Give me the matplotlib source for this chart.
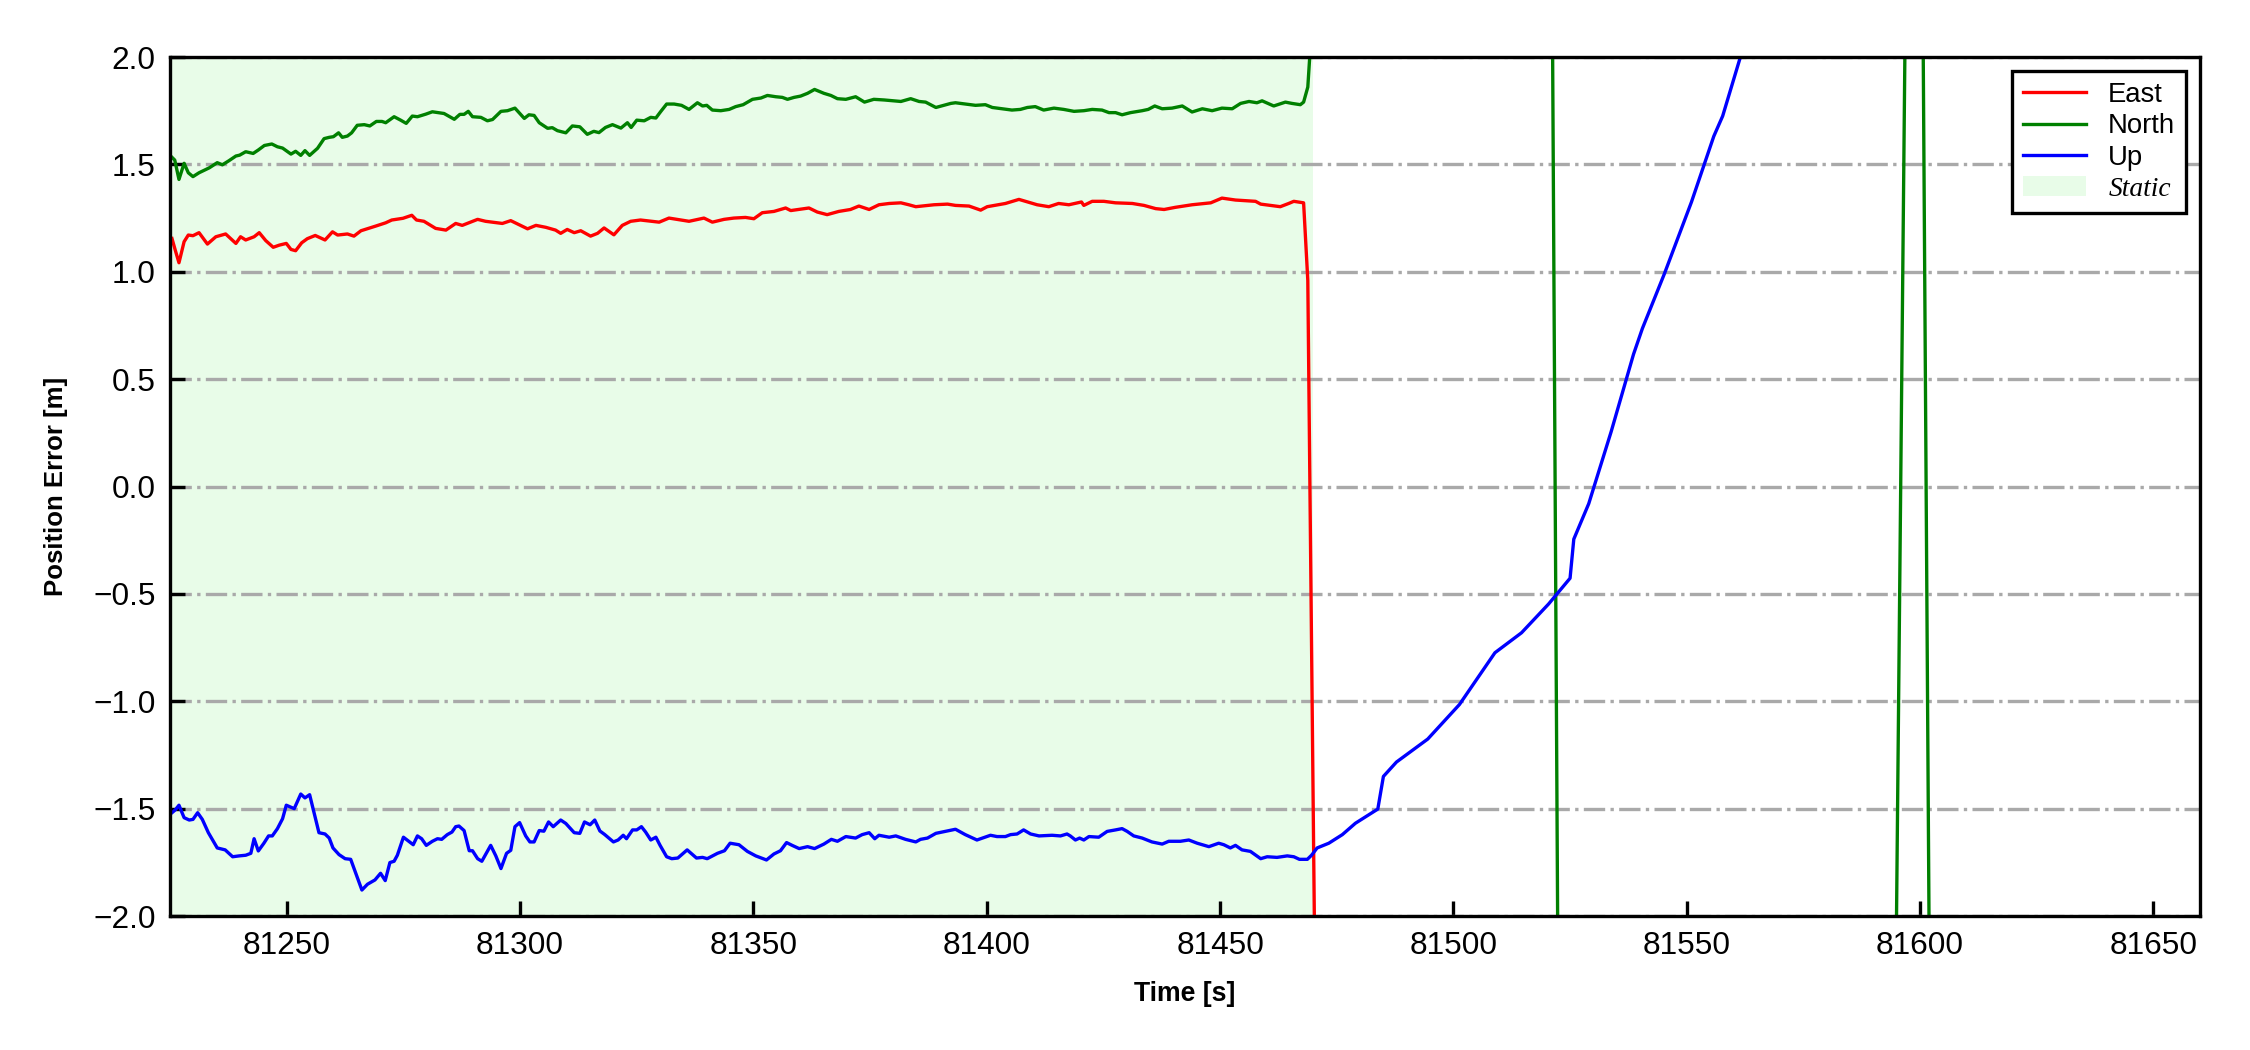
import numpy as np
import matplotlib
matplotlib.use("Agg")
import matplotlib.pyplot as plt

# East error (red)
east_t = [81225.4, 81226.1, 81226.9, 81228.0, 81228.9, 81229.9, 81231.2, 81233.0, 81234.8, 81236.9,
          81239.1, 81240.1, 81241.2, 81243.0, 81244.1, 81245.5, 81247.1, 81248.4, 81249.9, 81250.9,
          81251.9, 81253.2, 81254.4, 81256.1, 81258.2, 81259.8, 81260.9, 81263.0, 81264.4, 81265.9,
          81269.1, 81271.2, 81272.5, 81274.9, 81276.8, 81277.8, 81279.4, 81281.9, 81284.1, 81286.2,
          81287.6, 81290.9, 81292.6, 81296.2, 81298.0, 81299.8, 81301.6, 81303.4, 81305.5, 81307.6,
          81308.7, 81310.1, 81311.6, 81313.0, 81315.1, 81316.6, 81318.0, 81320.1, 81321.9, 81323.7,
          81325.8, 81329.8, 81331.9, 81336.2, 81339.4, 81341.2, 81343.7, 81345.8, 81348.3, 81350.1,
          81351.9, 81354.4, 81356.9, 81358.0, 81361.9, 81363.7, 81365.8, 81368.3, 81370.8, 81372.6,
          81374.8, 81376.9, 81379.1, 81381.6, 81383.3, 81384.8, 81388.7, 81391.6, 81393.3, 81396.2,
          81398.7, 81400.1, 81404.0, 81406.9, 81410.8, 81413.3, 81415.4, 81417.6, 81420.3, 81420.8,
          81422.6, 81425.1, 81427.6, 81431.2, 81433.7, 81436.2, 81438.0, 81440.4, 81444.0, 81448.0,
          81450.4, 81453.3, 81457.6, 81458.7, 81462.9, 81464.7, 81465.8, 81467.9, 81468.8, 81471.0,
          81560.0, 81660.0]
east_v = [1.155, 1.101, 1.042, 1.140, 1.171, 1.168, 1.182, 1.129, 1.163, 1.176,
          1.132, 1.163, 1.148, 1.163, 1.182, 1.145, 1.114, 1.124, 1.132, 1.104,
          1.098, 1.135, 1.154, 1.169, 1.148, 1.186, 1.171, 1.176, 1.166, 1.191,
          1.213, 1.228, 1.241, 1.249, 1.263, 1.241, 1.235, 1.202, 1.194, 1.225,
          1.216, 1.244, 1.235, 1.225, 1.238, 1.219, 1.200, 1.216, 1.207, 1.194,
          1.179, 1.197, 1.182, 1.191, 1.166, 1.179, 1.204, 1.172, 1.216, 1.235,
          1.241, 1.231, 1.250, 1.235, 1.250, 1.231, 1.244, 1.250, 1.253, 1.247,
          1.275, 1.281, 1.297, 1.285, 1.297, 1.278, 1.266, 1.281, 1.290, 1.306,
          1.290, 1.312, 1.318, 1.321, 1.312, 1.303, 1.312, 1.315, 1.309, 1.306,
          1.287, 1.303, 1.318, 1.337, 1.312, 1.303, 1.318, 1.312, 1.325, 1.309,
          1.328, 1.328, 1.321, 1.318, 1.309, 1.294, 1.290, 1.300, 1.312, 1.321,
          1.343, 1.334, 1.328, 1.315, 1.303, 1.318, 1.328, 1.321, 0.96, -3.7,
          -6.0, -8.5]

# North error (green)
north_t = [81225.4, 81226.0, 81226.9, 81228.0, 81228.9, 81229.9, 81231.2, 81233.4, 81235.1, 81236.2,
           81237.6, 81239.1, 81239.9, 81241.2, 81242.8, 81243.9, 81245.2, 81246.8, 81248.0, 81249.1,
           81250.9, 81251.9, 81253.0, 81253.9, 81254.9, 81256.6, 81258.0, 81259.1, 81260.0, 81261.1,
           81261.9, 81263.0, 81263.9, 81265.1, 81266.6, 81267.8, 81269.2, 81270.4, 81271.2, 81273.0,
           81274.4, 81275.6, 81276.9, 81278.0, 81279.8, 81281.2, 81283.7, 81285.9, 81287.1, 81288.0,
           81288.9, 81289.8, 81291.6, 81293.0, 81294.1, 81295.9, 81297.3, 81298.9, 81300.9, 81301.9,
           81303.0, 81304.1, 81305.9, 81306.9, 81308.0, 81309.8, 81311.2, 81312.8, 81314.4, 81315.8,
           81316.9, 81318.3, 81319.8, 81321.6, 81323.0, 81323.8, 81325.0, 81326.6, 81328.0, 81329.1,
           81330.1, 81331.4, 81333.0, 81334.6, 81336.2, 81338.0, 81339.1, 81340.0, 81341.2, 81343.0,
           81344.8, 81346.2, 81347.8, 81349.8, 81351.6, 81353.0, 81354.8, 81356.2, 81357.3, 81358.7,
           81360.1, 81361.6, 81363.1, 81365.1, 81366.6, 81368.0, 81369.8, 81371.9, 81373.8, 81375.8,
           81378.0, 81380.1, 81381.6, 81383.7, 81385.5, 81386.9, 81389.1, 81390.8, 81392.3, 81393.3,
           81395.4, 81397.6, 81399.7, 81401.2, 81403.3, 81405.4, 81407.2, 81408.7, 81410.4, 81412.2,
           81414.4, 81416.5, 81418.7, 81420.8, 81422.6, 81424.7, 81426.2, 81427.6, 81429.0, 81430.8,
           81433.3, 81434.6, 81436.0, 81437.6, 81439.7, 81441.9, 81444.0, 81446.2, 81448.3, 81450.4,
           81452.6, 81454.4, 81456.2, 81457.9, 81459.0, 81461.5, 81464.0, 81465.4, 81467.2, 81467.9,
           81468.8, 81469.8, 81495.0, 81521.0, 81522.6, 81560.0, 81594.6, 81597.1, 81600.5, 81602.1,
           81660.0]
north_v = [1.533, 1.520, 1.430, 1.505, 1.461, 1.443, 1.461, 1.484, 1.508, 1.498,
           1.517, 1.539, 1.543, 1.559, 1.551, 1.567, 1.588, 1.595, 1.582, 1.576,
           1.548, 1.561, 1.542, 1.564, 1.542, 1.575, 1.620, 1.626, 1.629, 1.647,
           1.626, 1.632, 1.647, 1.682, 1.685, 1.679, 1.700, 1.700, 1.694, 1.722,
           1.706, 1.691, 1.725, 1.722, 1.734, 1.745, 1.737, 1.710, 1.733, 1.733,
           1.747, 1.722, 1.719, 1.703, 1.709, 1.747, 1.750, 1.762, 1.714, 1.731,
           1.728, 1.694, 1.668, 1.671, 1.657, 1.647, 1.679, 1.675, 1.640, 1.654,
           1.648, 1.672, 1.685, 1.669, 1.694, 1.672, 1.706, 1.703, 1.719, 1.716,
           1.745, 1.781, 1.781, 1.775, 1.756, 1.787, 1.772, 1.775, 1.753, 1.750,
           1.756, 1.769, 1.778, 1.803, 1.809, 1.821, 1.815, 1.812, 1.803, 1.812,
           1.818, 1.831, 1.849, 1.831, 1.821, 1.806, 1.803, 1.815, 1.790, 1.803,
           1.800, 1.796, 1.793, 1.806, 1.793, 1.790, 1.765, 1.775, 1.784, 1.787,
           1.781, 1.775, 1.778, 1.765, 1.759, 1.753, 1.756, 1.765, 1.769, 1.753,
           1.762, 1.756, 1.747, 1.750, 1.756, 1.753, 1.741, 1.741, 1.731, 1.741,
           1.750, 1.756, 1.772, 1.759, 1.762, 1.772, 1.744, 1.759, 1.750, 1.762,
           1.759, 1.784, 1.793, 1.787, 1.796, 1.772, 1.790, 1.784, 1.778, 1.790,
           1.86, 2.2, 5.5, 3.0, -3.0, -5.0, -2.8, 2.8, 2.6, -2.6,
           -4.0]

# Up error (blue)
up_t = [81225.4, 81226.1, 81226.9, 81228.0, 81229.1, 81229.9, 81230.9, 81231.9, 81233.2, 81235.1,
        81236.8, 81238.4, 81239.8, 81241.2, 81242.3, 81243.0, 81243.9, 81245.1, 81246.1, 81246.9,
        81248.0, 81249.1, 81249.9, 81251.6, 81253.0, 81253.9, 81254.9, 81256.9, 81258.2, 81259.1,
        81259.9, 81261.2, 81262.5, 81263.7, 81266.1, 81267.3, 81268.9, 81270.1, 81271.1, 81272.1,
        81273.0, 81273.7, 81275.0, 81277.1, 81278.0, 81278.9, 81279.9, 81281.2, 81282.3, 81283.2,
        81284.4, 81285.4, 81286.2, 81286.9, 81288.0, 81289.1, 81289.8, 81290.9, 81291.8, 81293.7,
        81294.8, 81295.9, 81297.1, 81298.0, 81298.9, 81299.9, 81301.2, 81302.1, 81303.0, 81304.1,
        81305.1, 81306.1, 81307.1, 81308.7, 81309.8, 81311.6, 81312.8, 81313.8, 81315.0, 81316.0,
        81317.1, 81318.1, 81320.0, 81321.0, 81322.1, 81322.8, 81324.1, 81325.0, 81326.0, 81326.9,
        81328.0, 81329.1, 81330.0, 81331.4, 81332.5, 81333.8, 81335.8, 81337.8, 81339.1, 81340.1,
        81342.3, 81343.8, 81345.0, 81346.9, 81348.7, 81350.5, 81352.8, 81354.4, 81355.8, 81357.1,
        81358.3, 81359.8, 81361.6, 81363.1, 81365.1, 81366.7, 81368.0, 81369.8, 81371.9, 81373.3,
        81374.8, 81376.0, 81376.9, 81379.1, 81380.5, 81382.6, 81384.8, 81385.8, 81387.3, 81389.1,
        81391.6, 81393.3, 81395.4, 81397.9, 81400.8, 81402.2, 81404.0, 81405.1, 81406.5, 81407.9,
        81409.4, 81411.2, 81414.0, 81415.8, 81417.2, 81417.9, 81419.0, 81419.9, 81420.8, 81421.9,
        81424.0, 81425.8, 81427.6, 81429.0, 81430.1, 81431.5, 81433.3, 81435.4, 81437.6, 81439.0,
        81441.5, 81443.3, 81445.1, 81447.6, 81449.7, 81450.8, 81452.2, 81453.3, 81454.7, 81456.5,
        81458.7, 81460.1, 81462.2, 81464.4, 81465.8, 81467.0, 81468.7, 81469.6, 81470.8, 81473.3,
        81476.2, 81479.0, 81483.8, 81485.0, 81487.8, 81494.5, 81501.3, 81508.9, 81514.6, 81520.4,
        81525.0, 81525.8, 81529.0, 81533.8, 81538.6, 81540.5, 81545.2, 81551.0, 81555.8, 81557.7,
        81561.5, 81566.0, 81660.0]
up_v = [-1.519, -1.506, -1.484, -1.542, -1.553, -1.550, -1.519, -1.550, -1.612, -1.683,
        -1.692, -1.724, -1.720, -1.717, -1.708, -1.640, -1.697, -1.661, -1.627, -1.627,
        -1.593, -1.547, -1.484, -1.500, -1.432, -1.450, -1.435, -1.612, -1.618, -1.637,
        -1.683, -1.714, -1.733, -1.736, -1.879, -1.852, -1.832, -1.801, -1.835, -1.751,
        -1.745, -1.717, -1.633, -1.668, -1.627, -1.640, -1.671, -1.652, -1.640, -1.643,
        -1.621, -1.609, -1.584, -1.581, -1.602, -1.696, -1.696, -1.733, -1.745, -1.671,
        -1.720, -1.779, -1.708, -1.694, -1.584, -1.565, -1.627, -1.655, -1.655, -1.602,
        -1.605, -1.562, -1.584, -1.553, -1.569, -1.612, -1.615, -1.562, -1.575, -1.553,
        -1.604, -1.620, -1.655, -1.646, -1.624, -1.640, -1.599, -1.599, -1.584, -1.609,
        -1.646, -1.633, -1.671, -1.724, -1.733, -1.730, -1.692, -1.730, -1.727, -1.733,
        -1.708, -1.696, -1.661, -1.668, -1.699, -1.720, -1.739, -1.711, -1.696, -1.658,
        -1.671, -1.686, -1.677, -1.686, -1.665, -1.643, -1.652, -1.630, -1.637, -1.621,
        -1.612, -1.640, -1.624, -1.633, -1.627, -1.643, -1.655, -1.643, -1.637, -1.615,
        -1.604, -1.596, -1.621, -1.646, -1.624, -1.630, -1.630, -1.621, -1.618, -1.599,
        -1.618, -1.627, -1.624, -1.627, -1.618, -1.627, -1.646, -1.637, -1.646, -1.630,
        -1.633, -1.606, -1.599, -1.593, -1.606, -1.627, -1.637, -1.655, -1.665, -1.652,
        -1.652, -1.646, -1.661, -1.677, -1.661, -1.668, -1.683, -1.671, -1.692, -1.699,
        -1.733, -1.724, -1.727, -1.720, -1.724, -1.736, -1.736, -1.717, -1.683, -1.661,
        -1.621, -1.568, -1.502, -1.350, -1.283, -1.176, -1.015, -0.774, -0.681, -0.547,
        -0.427, -0.245, -0.080, 0.255, 0.616, 0.736, 0.990, 1.324, 1.631, 1.725,
        2.0, 2.3, 6.0]

static_start, static_end = 81220, 81470
x_min, x_max = 81225, 81660
y_min, y_max = -2.0, 2.0

plt.rcParams['font.family'] = ['Liberation Sans', 'DejaVu Sans']
plt.rcParams['font.size'] = 7

fig, ax = plt.subplots(figsize=(7.5, 3.5), dpi=300)
fig.subplots_adjust(left=0.0756, right=0.9778, bottom=0.1276, top=0.9457)

span = ax.axvspan(static_start, static_end, color='#e8fce8', zorder=0, lw=0)
l1, = ax.plot(east_t, east_v, color='red', lw=0.8, label='East')
l2, = ax.plot(north_t, north_v, color='green', lw=0.8, label='North')
l3, = ax.plot(up_t, up_v, color='blue', lw=0.8, label='Up')

ax.set_xlim(x_min, x_max)
ax.set_ylim(y_min, y_max)
ax.set_yticks(np.arange(-2.0, 2.01, 0.5))
ax.yaxis.grid(True, linestyle='-.', color='darkgray', lw=0.8, zorder=0.5)
ax.tick_params(direction='in', length=3.5, width=0.8, labelsize=7.6)
for s in ax.spines.values():
    s.set_linewidth(0.8)

ax.set_xlabel('Time [s]', fontsize=6.4, fontweight='bold', labelpad=5)
ax.set_ylabel('Position Error [m]', fontsize=6.2, fontweight='bold', labelpad=6)

leg = ax.legend([l1, l2, l3, span], ['East', 'North', 'Up', 'Static'],
                loc='upper right', fontsize=6.6, fancybox=False, framealpha=1,
                edgecolor='black', labelspacing=0.2, handlelength=2.3)
leg.get_frame().set_linewidth(0.8)
st = leg.get_texts()[3]
st.set_fontfamily(['Liberation Serif', 'DejaVu Serif'])
st.set_fontstyle('italic')

fig.savefig('out.png', dpi=300)
